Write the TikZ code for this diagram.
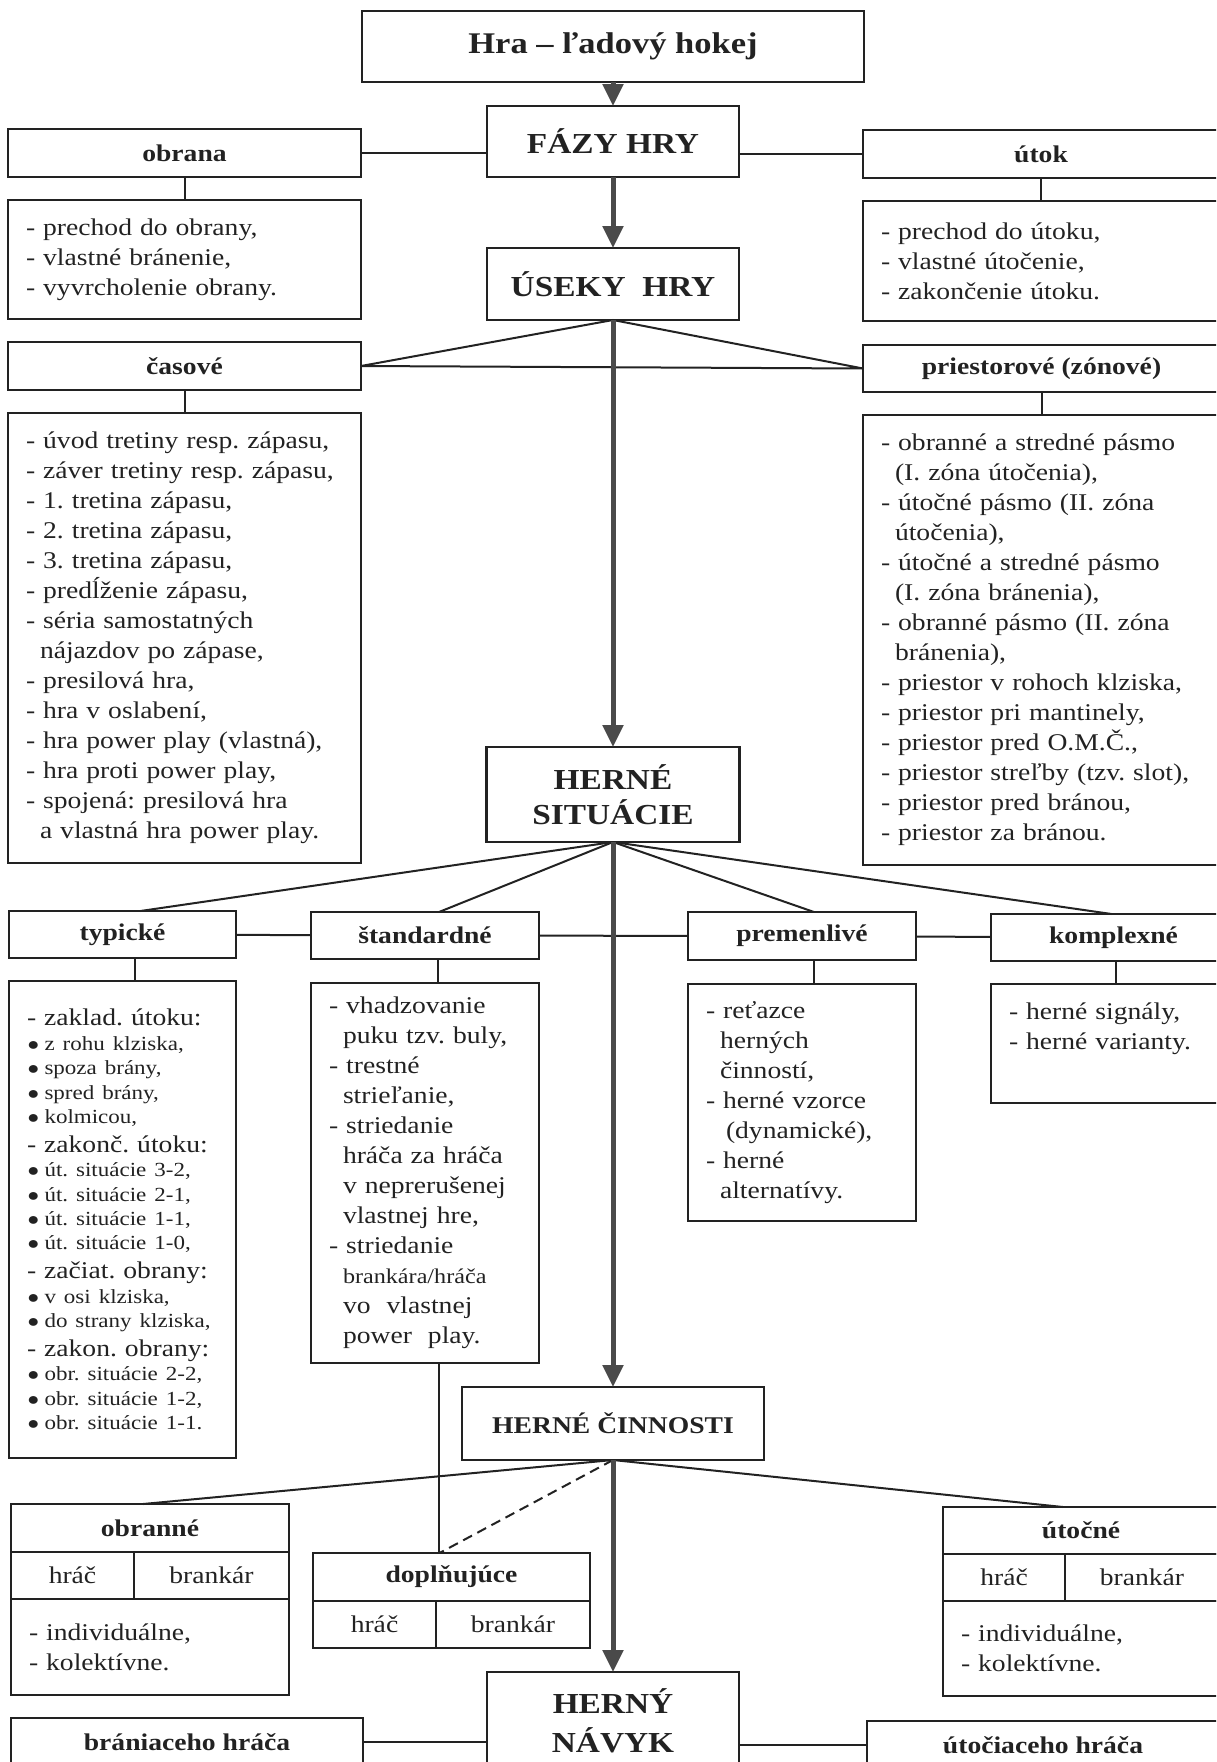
\documentclass[tikz,border=0pt]{standalone}
\usepackage{fontspec}
\setmainfont{Liberation Serif}[FakeStretch=1.15]
\usetikzlibrary{positioning, arrows.meta}

\definecolor{ink}{HTML}{222222}
\definecolor{spinegray}{HTML}{4A4A4A}

\frenchspacing
\newcommand{\odr}{\hspace*{7pt}}
\newcommand{\bod}[1]{{\fontsize{10}{12}\selectfont{\fontsize{9}{12}\selectfont ●}\hspace{2.5pt}#1}}

\begin{document}
\begin{tikzpicture}[x=0.5pt, y=-0.5pt,
  every node/.style={text=ink, outer sep=0pt},
  mainbox/.style={draw=ink, line width=1.1pt, rectangle, align=center, inner sep=0pt,
    font=\bfseries\fontsize{14.5}{17.5}\selectfont},
  headbox/.style={draw=ink, line width=1.1pt, rectangle, minimum height=24pt, inner sep=0pt,
    font=\bfseries\fontsize{12}{14}\selectfont},
  listbox/.style={draw=ink, line width=1.1pt, rectangle, align=left, inner xsep=9pt, inner ysep=0pt,
    font=\fontsize{12}{15}\selectfont},
  cellbox/.style={draw=ink, line width=1.1pt, rectangle, minimum height=23.5pt, inner sep=0pt,
    font=\fontsize{12}{14}\selectfont},
  link/.style={draw=ink, line width=1pt},
  spine/.style={draw=spinegray, line width=2.5pt, -{Triangle[width=10pt,length=11pt]}}]

  \useasboundingbox (0,0) rectangle (1216,1762);
  \clip (0,0) rectangle (1216,1762);

  % hlavna os
  \node[mainbox, minimum width=251pt, minimum height=35.5pt, font=\bfseries\fontsize{15}{18}\selectfont] (hra) at (613,46.5) {Hra – ľadový hokej};
  \node[mainbox, minimum width=126pt, minimum height=35.5pt] (fazy) at (613,141.5) {FÁZY HRY};
  \node[mainbox, minimum width=126pt, minimum height=36pt] (useky) at (613,284) {ÚSEKY\ \ HRY};
  \node[mainbox, minimum width=126.5pt, minimum height=47.5pt] (situacie) at (613,794.5) {HERNÉ\\SITUÁCIE};
  \node[mainbox, minimum width=151pt, minimum height=36.5pt, font=\bfseries\fontsize{12}{14}\selectfont] (cinnosti) at (613,1423.5) {HERNÉ ČINNOSTI};
  \node[mainbox, minimum width=126pt, minimum height=49pt, font=\bfseries\fontsize{14.5}{19.5}\selectfont] (navyk) at (613,1721) {HERNÝ\\NÁVYK};

  % fazy hry
  \node[headbox, minimum width=176.5pt] (obrana) at (184.5,153) {obrana};
  \node[headbox, minimum width=178pt] (utok) at (1041,154) {útok};
  \node[listbox, text width=158.5pt, minimum height=59.5pt, below=11.5pt of obrana] (obranaL) {
    - prechod do obrany,\\
    - vlastné bránenie,\\
    - vyvrcholenie obrany.};
  \node[listbox, text width=160pt, minimum height=60pt, below=11.5pt of utok] (utokL) {
    - prechod do útoku,\\
    - vlastné útočenie,\\
    - zakončenie útoku.};

  % useky hry
  \node[headbox, minimum width=176.5pt] (casove) at (184.5,366) {časové};
  \node[headbox, minimum width=178.5pt, minimum height=23.5pt] (priestor) at (1041.5,368.5) {priestorové (zónové)};
  \node[listbox, text width=158.5pt, minimum height=225pt, below=11.5pt of casove] (casoveL) {
    - úvod tretiny resp. zápasu,\\
    - záver tretiny resp. zápasu,\\
    - 1. tretina zápasu,\\
    - 2. tretina zápasu,\\
    - 3. tretina zápasu,\\
    - predĺženie zápasu,\\
    - séria samostatných\\
    \odr nájazdov po zápase,\\
    - presilová hra,\\
    - hra v oslabení,\\
    - hra power play (vlastná),\\
    - hra proti power play,\\
    - spojená: presilová hra\\
    \odr a vlastná hra power play.};
  \node[listbox, text width=160.5pt, minimum height=225pt, below=11.5pt of priestor] (priestorL) {
    - obranné a stredné pásmo\\
    \odr (I. zóna útočenia),\\
    - útočné pásmo (II. zóna\\
    \odr útočenia),\\
    - útočné a stredné pásmo\\
    \odr (I. zóna bránenia),\\
    - obranné pásmo (II. zóna\\
    \odr bránenia),\\
    - priestor v rohoch klziska,\\
    - priestor pri mantinely,\\
    - priestor pred O.M.Č.,\\
    - priestor streľby (tzv. slot),\\
    - priestor pred bránou,\\
    - priestor za bránou.};

  % herne situacie
  \node[headbox, minimum width=113.5pt, minimum height=23.5pt] (typicke) at (122.5,934.5) {typické};
  \node[headbox, minimum width=114pt, minimum height=23.5pt] (standard) at (425,935.5) {štandardné};
  \node[headbox, minimum width=114pt] (premen) at (802,936) {premenlivé};
  \node[headbox, minimum width=122.5pt, minimum height=23.5pt] (komplex) at (1113.5,937.5) {komplexné};
  \node[listbox, text width=95.5pt, minimum height=238.5pt, below=11.5pt of typicke, font=\fontsize{12}{12.2}\selectfont] (typickeL) {
    - zaklad. útoku:\\
    \bod{z rohu klziska,}\\
    \bod{spoza brány,}\\
    \bod{spred brány,}\\
    \bod{kolmicou,}\\[2.2pt]
    - zakonč. útoku:\\
    \bod{út. situácie 3-2,}\\
    \bod{út. situácie 2-1,}\\
    \bod{út. situácie 1-1,}\\
    \bod{út. situácie 1-0,}\\[2.2pt]
    - začiat. obrany:\\
    \bod{v osi klziska,}\\
    \bod{do strany klziska,}\\[2.2pt]
    - zakon. obrany:\\
    \bod{obr. situácie 2-2,}\\
    \bod{obr. situácie 1-2,}\\
    \bod{obr. situácie 1-1.}};
  \node[listbox, text width=96pt, minimum height=190pt, below=12pt of standard] (standardL) {
    - vhadzovanie\\
    \odr puku tzv. buly,\\
    - trestné\\
    \odr strieľanie,\\
    - striedanie\\
    \odr hráča za hráča\\
    \odr v neprerušenej\\
    \odr vlastnej hre,\\
    - striedanie\\
    \odr {\fontsize{10.5}{15}\selectfont brankára/hráča}\\
    \odr vo\ \ vlastnej\\
    \odr power\ \ play.};
  \node[listbox, text width=96pt, minimum height=118.5pt, below=12pt of premen] (premenL) {
    - reťazce\\
    \odr herných\\
    \odr činností,\\
    - herné vzorce\\
    \odr\hspace*{3pt}(dynamické),\\
    - herné\\
    \odr alternatívy.};
  \node[listbox, text width=104.5pt, minimum height=59.5pt, below=11.5pt of komplex] (komplexL) {
    - herné signály,\\
    - herné varianty.\\[2pt]
    \mbox{}};

  % herne cinnosti
  \node[headbox, minimum width=139pt] (obranne) at (150,1528) {obranné};
  \node[cellbox, minimum width=61.5pt, anchor=north west] (obHrac) at (obranne.south west) {hráč};
  \node[cellbox, minimum width=77.5pt, right=0pt of obHrac] (obBrankar) {brankár};
  \node[listbox, text width=121pt, minimum height=48pt, anchor=north west] (obranneL) at (obHrac.south west) {
    - individuálne,\\
    - kolektívne.};

  \node[headbox, minimum width=138.5pt] (doplnujuce) at (451.5,1577) {doplňujúce};
  \node[cellbox, minimum width=61.5pt, anchor=north west] (doHrac) at (doplnujuce.south west) {hráč};
  \node[cellbox, minimum width=77pt, right=0pt of doHrac] (doBrankar) {brankár};

  \node[headbox, minimum width=138pt, minimum height=23.5pt] (utocne) at (1081,1530.5) {útočné};
  \node[cellbox, minimum width=61pt, anchor=north west] (utHrac) at (utocne.south west) {hráč};
  \node[cellbox, minimum width=77pt, right=0pt of utHrac] (utBrankar) {brankár};
  \node[listbox, text width=120pt, minimum height=47.5pt, anchor=north west] (utocneL) at (utHrac.south west) {
    - individuálne,\\
    - kolektívne.};

  % herny navyk
  \node[headbox, minimum width=176pt] (braniaceho) at (187,1742) {brániaceho hráča};
  \node[headbox, minimum width=176pt] (utociaceho) at (1043,1745) {útočiaceho hráča};

  \draw[link] (obrana.east) -- (obrana.east -| fazy.west);
  \draw[link] (fazy.east |- utok.west) -- (utok.west);
  \draw[link] (obrana.south) -- (obranaL.north);
  \draw[link] (utok.south) -- (utokL.north);

  \draw[link] (useky.south) -- (casove.east) -- (priestor.west) -- cycle;
  \draw[link] (casove.south) -- (casoveL.north);
  \draw[link] (priestor.south) -- (priestorL.north);

  \foreach \n/\s in {typicke/9pt, standard/7pt, premen/6pt, komplex/-1pt}
    \draw[link] (situacie.south) -- ([xshift=\s]\n.north);
  \foreach \n/\m/\s in {typicke/typickeL/6.25pt, standard/standardL/6.5pt, premen/premenL/6pt, komplex/komplexL/1.25pt}
    \draw[link] ([xshift=\s]\n.south) -- ([xshift=\s]\m.north);
  \draw[link] (typicke) -- (standard);
  \draw[link] (standard) -- (premen);
  \draw[link] (premen) -- (komplex);

  \draw[link] ([xshift=7pt]standardL.south) -- ([xshift=7pt]standardL.south |- doplnujuce.north);
  \draw[link] (cinnosti.south) -- ([xshift=-3.5pt]obranne.north);
  \draw[link] (cinnosti.south) -- ([xshift=-9pt]utocne.north);
  \draw[link, dash pattern=on 5pt off 3pt] (cinnosti.south) -- ([xshift=-6pt]doplnujuce.north);

  \draw[link] (braniaceho.east) -- (braniaceho.east -| navyk.west);
  \draw[link] (navyk.east |- utociaceho.west) -- (utociaceho.west);

  \draw[spine] (hra) -- (fazy);
  \draw[spine] (fazy) -- (useky);
  \draw[spine] (useky) -- (situacie);
  \draw[spine] (situacie) -- (cinnosti);
  \draw[spine] (cinnosti) -- (navyk);

\end{tikzpicture}
\end{document}
